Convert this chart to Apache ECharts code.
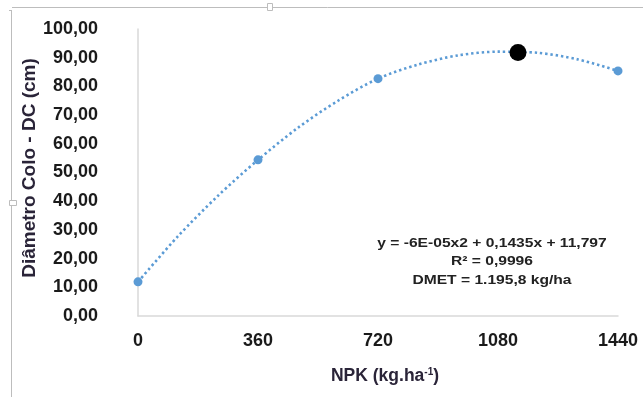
<!DOCTYPE html>
<html>
<head>
<meta charset="utf-8">
<script src="https://cdn.jsdelivr.net/npm/echarts@6/dist/echarts.min.js"></script>
<style>
html,body{margin:0;padding:0;background:#fff;}
#chart{width:643px;height:397px;}
</style>
</head>
<body>
<div id="chart"></div>
<script>
// Observed data points (NPK dose in kg/ha, collar diameter in cm)
const npkDoses = [0, 360, 720, 1440];
const diametro = [11.9, 54.4, 82.7, 85.4];
// Maximum efficiency point (black dot)
const maxDose = [1140];
const maxDiam = [91.8];
// Trend curve
const trendX = [0, 120, 240, 360, 480, 600, 720, 840, 960, 1080, 1200, 1320, 1440];
const trendY = [11.9, 27.8, 41.9, 54.4, 65.6, 75.0, 82.7, 87.6, 90.8, 92.1, 91.7, 89.4, 85.4];
// Axis ticks
const xTicks = [0, 360, 720, 1080, 1440];
const yTicks = [0, 10, 20, 30, 40, 50, 60, 70, 80, 90, 100];
// Texts
const yTitle = 'Diâmetro Colo - DC (cm)';
const eqLines = ['y = -6E-05x2 + 0,1435x + 11,797', 'R\u00B2 = 0,9996', 'DMET = 1.195,8 kg/ha'];

const chart = echarts.init(document.getElementById('chart'), null, {renderer: 'canvas'});
const font = '"Liberation Sans", Arial, sans-serif';
const zip = (a, b) => a.map((v, i) => [v, b[i]]);
const titleColor = '#2a2438';

chart.setOption({
  animation: false,
  backgroundColor: '#fff',
  grid: {left: 138, right: 25, top: 29, bottom: 81, containLabel: false},
  xAxis: {
    type: 'value',
    min: xTicks[0], max: xTicks[xTicks.length - 1], interval: 360,
    axisLine: {show: true, lineStyle: {color: '#d9d9d9', width: 1.5}},
    axisTick: {show: false},
    splitLine: {show: false},
    axisLabel: {margin: 16, fontFamily: font, fontWeight: 'bold', fontSize: 18, color: '#1a1a1a', formatter: v => String(v)},
    name: 'NPK (kg.ha{sup|-1})',
    nameLocation: 'middle',
    nameGap: 51,
    nameTextStyle: {
      fontFamily: font, fontWeight: 'bold', fontSize: 17.5, color: titleColor, padding: [0, 0, 0, 14],
      rich: {sup: {fontFamily: font, fontWeight: 'bold', fontSize: 10, color: titleColor, verticalAlign: 'top', padding: [0, 0, 9, 0]}}
    }
  },
  yAxis: {
    type: 'value',
    min: yTicks[0], max: yTicks[yTicks.length - 1], interval: 10,
    axisLine: {show: true, lineStyle: {color: '#d9d9d9', width: 1.5}},
    axisTick: {show: false},
    splitLine: {show: false},
    axisLabel: {
      margin: 40, fontFamily: font, fontWeight: 'bold', fontSize: 18, color: '#1a1a1a',
      formatter: v => v.toFixed(2).replace('.', ',')
    }
  },
  series: [
    {
      type: 'line',
      data: zip(trendX, trendY),
      smooth: 0.3,
      showSymbol: false,
      symbol: 'none',
      lineStyle: {color: '#5b9bd5', width: 2.6, type: [2.4, 2.9], cap: 'butt'},
      silent: true,
      z: 2
    },
    {
      type: 'scatter',
      data: zip(npkDoses, diametro),
      symbol: 'circle',
      symbolSize: 9,
      itemStyle: {color: '#5b9bd5', opacity: 1},
      z: 3
    },
    {
      type: 'scatter',
      data: zip(maxDose, maxDiam),
      symbol: 'circle',
      symbolSize: 17,
      itemStyle: {color: '#000', opacity: 1},
      z: 4
    }
  ],
  graphic: [
    {type: 'line', shape: {x1: 12, y1: 7.5, x2: 643, y2: 7.5}, style: {stroke: '#bdbdbd', lineWidth: 1}, silent: true},
    {type: 'line', shape: {x1: 11.5, y1: 10, x2: 11.5, y2: 397}, style: {stroke: '#bdbdbd', lineWidth: 1}, silent: true},
    {type: 'line', shape: {x1: 9, y1: 10.5, x2: 12, y2: 10.5}, style: {stroke: '#bdbdbd', lineWidth: 1}, silent: true},
    {type: 'rect', shape: {x: 267.5, y: 3.5, width: 5, height: 7}, style: {fill: '#fff', stroke: '#bdbdbd', lineWidth: 1}, silent: true},
    {type: 'rect', shape: {x: 9.5, y: 200.5, width: 7, height: 5}, style: {fill: '#fff', stroke: '#bdbdbd', lineWidth: 1}, silent: true},
    {
      type: 'text', x: 30, y: 168, rotation: Math.PI / 2,
      style: {
        text: yTitle, x: 0, y: 0, align: 'center', verticalAlign: 'middle',
        font: 'bold 19px "Liberation Sans", Arial, sans-serif', fill: titleColor
      },
      silent: true
    },
    {
      type: 'text', x: 492, y: 234, scaleX: 1.2,
      style: {
        text: eqLines.join('\n'), x: 0, y: 0, align: 'center', verticalAlign: 'top',
        font: 'bold 13px "Liberation Sans", Arial, sans-serif', lineHeight: 18.5, fill: '#222'
      },
      silent: true
    }
  ]
});
</script>
</body>
</html>
